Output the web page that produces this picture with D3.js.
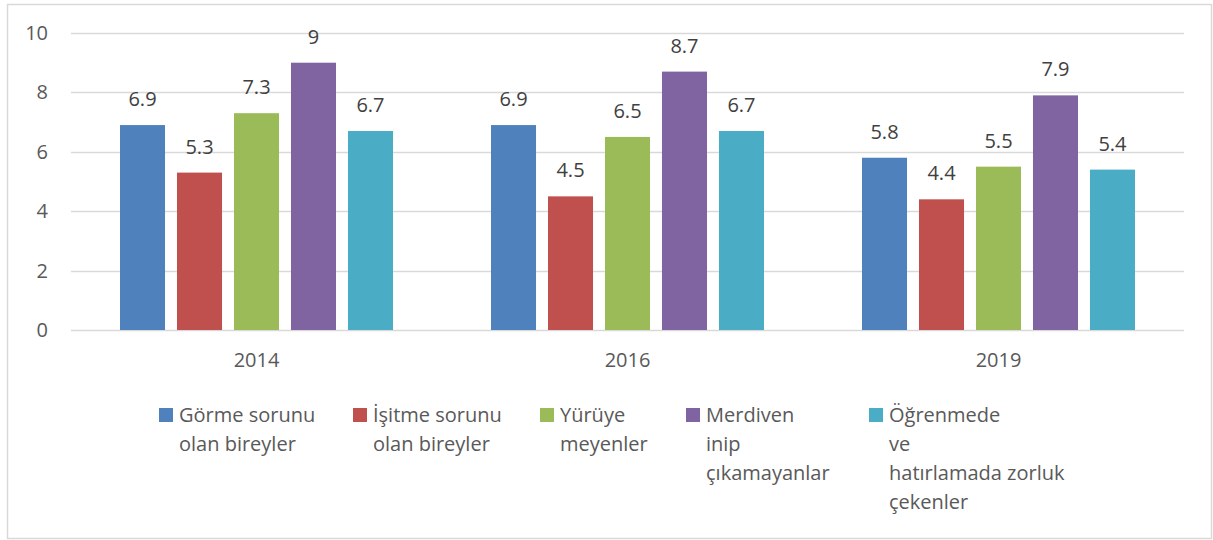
<!DOCTYPE html>
<html>
  <head>
    <meta charset="utf-8">
    <title>Engelli bireyler</title>
    <script src="https://d3js.org/d3.v7.min.js"></script>
    <style>
      body { margin: 0; background: white; }
      text { font-family: "Open Sans", "Noto Sans", sans-serif; fill: #595959; font-size: 20px; }
      .val { fill: #404040; }
    </style>
  </head>
  <body>
    <script>

      let width = 1213, height = 540;

      let years = ["2014", "2016", "2019"];
      let seriesNames = [
        ["Görme sorunu", "olan bireyler"],
        ["İşitme sorunu", "olan bireyler"],
        ["Yürüye", "meyenler"],
        ["Merdiven", "inip", "çıkamayanlar"],
        ["Öğrenmede", "ve", "hatırlamada zorluk", "çekenler"]
      ];
      let gorme    = [6.9, 6.9, 5.8];
      let isitme   = [5.3, 4.5, 4.4];
      let yuruyen  = [7.3, 6.5, 5.5];
      let merdiven = [9, 8.7, 7.9];
      let ogrenme  = [6.7, 6.7, 5.4];
      let yTicks = [0, 2, 4, 6, 8, 10];

      let series = [gorme, isitme, yuruyen, merdiven, ogrenme];
      let colors = ["#4F81BD", "#C0504D", "#9BBB59", "#8064A2", "#4BACC6"];

      // legend layout (left edge of each marker)
      let legendX = [159, 353, 540, 686, 869];

      let svg = d3.select("body").append("svg")
                  .attr("width", width)
                  .attr("height", height);

      // outer frame
      svg.append("rect")
         .attr("x", 7.5).attr("y", 4.5)
         .attr("width", 1204).attr("height", 534)
         .attr("fill", "none")
         .attr("stroke", "#D9D9D9")
         .attr("stroke-width", 1.5);

      let x0 = d3.scaleBand().domain(years).range([71, 1184]);
      let x1 = d3.scaleBand().domain(d3.range(series.length))
                 .range([49, x0.bandwidth() - 49])
                 .paddingInner(0.21);
      let y = d3.scaleLinear().domain([0, 10]).range([330, 33]);

      // gridlines
      svg.append("g").selectAll("line").data(yTicks)
         .enter().append("line")
         .attr("x1", 71).attr("x2", 1184)
         .attr("y1", d => Math.round(y(d)) + 0.5)
         .attr("y2", d => Math.round(y(d)) + 0.5)
         .attr("stroke", "#D9D9D9")
         .attr("stroke-width", 1.5);

      // y tick labels
      svg.append("g").selectAll("text").data(yTicks)
         .enter().append("text")
         .attr("x", 48)
         .attr("y", d => y(d))
         .attr("dy", "0.35em")
         .attr("text-anchor", "end")
         .text(d => d);

      // x labels
      svg.append("g").selectAll("text").data(years)
         .enter().append("text")
         .attr("x", d => x0(d) + x0.bandwidth() / 2)
         .attr("y", 367)
         .attr("text-anchor", "middle")
         .text(d => d);

      let groups = svg.append("g").selectAll("g").data(years)
                      .enter().append("g")
                      .attr("transform", d => `translate(${x0(d)},0)`);

      let cells = groups.selectAll("g")
                        .data((yr, i) => series.map((s, k) => ({ k: k, v: s[i] })))
                        .enter().append("g");

      cells.append("rect")
           .attr("x", d => x1(d.k))
           .attr("width", x1.bandwidth())
           .attr("y", d => y(d.v))
           .attr("height", d => y(0) - y(d.v))
           .attr("fill", d => colors[d.k]);

      cells.append("text")
           .attr("class", "val")
           .attr("x", d => x1(d.k) + x1.bandwidth() / 2)
           .attr("y", d => y(d.v) - 19)
           .attr("text-anchor", "middle")
           .text(d => d.v);

      // legend
      let legend = svg.append("g").selectAll("g").data(seriesNames)
                      .enter().append("g")
                      .attr("transform", (d, i) => `translate(${legendX[i]},408)`);

      legend.append("rect")
            .attr("width", 14).attr("height", 14)
            .attr("fill", (d, i) => colors[i]);

      legend.append("text")
            .selectAll("tspan").data(d => d)
            .enter().append("tspan")
            .attr("x", 20)
            .attr("y", (d, j) => 14 + j * 29)
            .text(d => d);

    </script>
  </body>
</html>
